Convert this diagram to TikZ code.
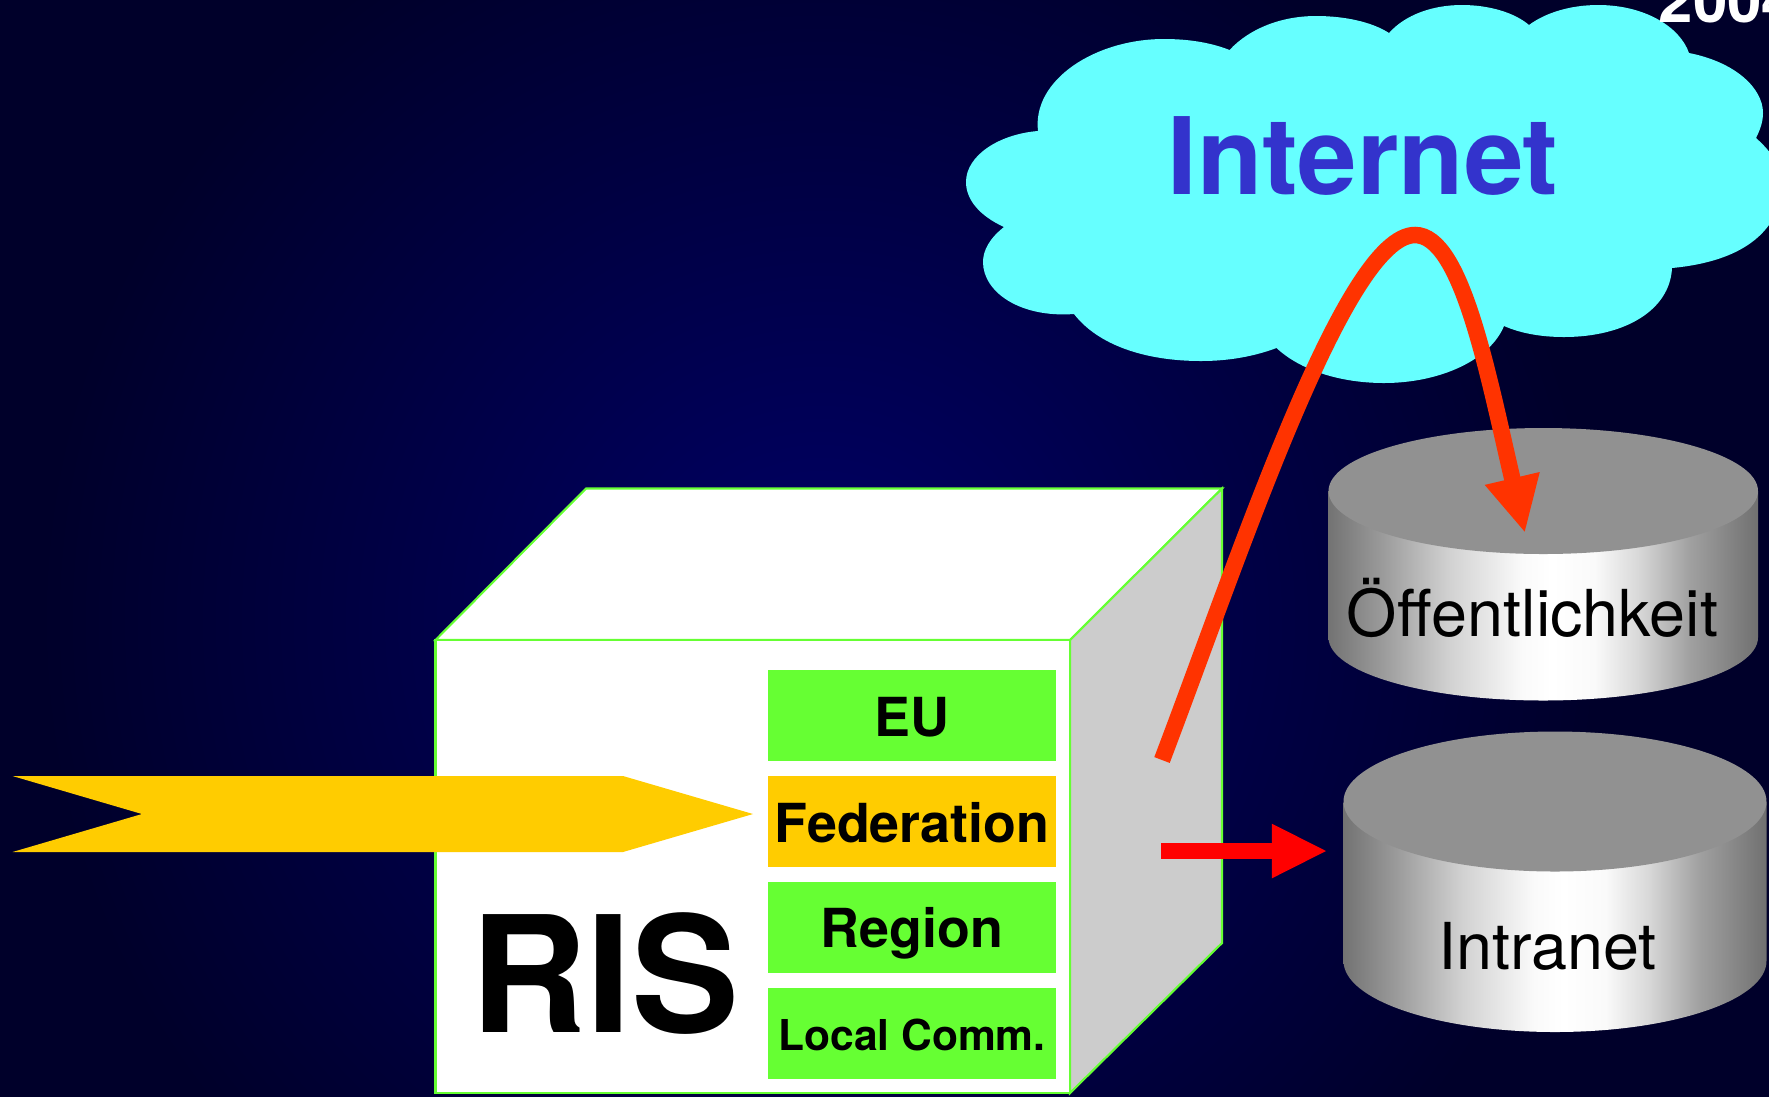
\documentclass[tikz,border=0pt]{standalone}
\usepackage{fontspec}
\setmainfont{TeX Gyre Heros}
\usetikzlibrary{arrows.meta}
\definecolor{bgglowin}{HTML}{000066}
\definecolor{bgglowout}{HTML}{00002A}
\definecolor{cloudcyan}{HTML}{66FFFF}
\definecolor{netblue}{HTML}{3333CC}
\definecolor{boxgreen}{HTML}{66FF33}
\definecolor{fedyellow}{HTML}{FFCC00}
\definecolor{sidegray}{HTML}{CCCCCC}
\definecolor{diskgray}{HTML}{919191}
\definecolor{curveorange}{HTML}{FF3300}
\pgfdeclareradialshading{bgglow}{\pgfpoint{0bp}{0bp}}{color(0bp)=(bgglowin); color(15bp)=(bgglowout); color(50bp)=(bgglowout)}
\pgfdeclarehorizontalshading{disksheen}{100bp}{rgb(0bp)=(.45,.45,.45); rgb(25bp)=(.45,.45,.45); rgb(31bp)=(.60,.60,.60); rgb(39bp)=(.82,.82,.82); rgb(47.5bp)=(.98,.98,.98); rgb(51bp)=(1,1,1); rgb(56bp)=(.98,.98,.98); rgb(61bp)=(.85,.85,.85); rgb(67bp)=(.63,.63,.63); rgb(75bp)=(.44,.44,.44); rgb(100bp)=(.44,.44,.44)}
\tikzset{
  cubeface/.style={draw=boxgreen,line width=0.6pt},
  levelbox/.style={fill=boxgreen},
  levellabel/.style={anchor=base,font=\bfseries\fontsize{15.3}{18}\selectfont},
  disklabel/.style={anchor=base,black,font=\fontsize{18.4}{22}\selectfont},
}
\begin{document}
\begin{tikzpicture}[x=0.01cm,y=-0.01cm]
    \clip (0,0) rectangle (1769,1096);
    \shade[shading=bgglow] (820,620) circle (1300);

    % cloud
    \fill[cloudcyan] (1038,131) .. controls (1032,80) and (1095,39) .. (1164,39) .. controls (1190,39) and (1212,43) .. (1229.5,50)
        .. controls (1250,28) and (1282,16) .. (1316,16) .. controls (1345,16) and (1372,22) .. (1389,33)
        .. controls (1405,15) and (1432,5) .. (1462,5) .. controls (1490,5) and (1515,13) .. (1529,25)
        .. controls (1545,13) and (1570,5) .. (1598,5) .. controls (1645,5) and (1680,27) .. (1689,53)
        .. controls (1735,62) and (1763,88) .. (1763,113) .. controls (1763,122) and (1760,130) .. (1756,138)
        .. controls (1775,155) and (1790,175) .. (1775,215) .. controls (1760,245) and (1725,263) .. (1672,268)
        .. controls (1670,310) and (1625,337) .. (1564,337) .. controls (1540,337) and (1520,333) .. (1504,326)
        .. controls (1490,360) and (1440,383) .. (1384,383) .. controls (1340,383) and (1300,370) .. (1276.5,348)
        .. controls (1255,356) and (1230,361) .. (1201,361) .. controls (1145,361) and (1098,345) .. (1074,314)
        .. controls (1020,318) and (983,292) .. (983,262) .. controls (983,250) and (990,238) .. (1004,227)
        .. controls (980,216) and (966,200) .. (966,182) .. controls (966,155) and (1000,134) .. (1038,131) -- cycle;
    \node[anchor=base,netblue,font=\bfseries\fontsize{30.4}{36}\selectfont] (internet) at (1363,194) {Internet};
    \node[anchor=base west,inner sep=0pt,white,font=\bfseries\fontsize{17.6}{20}\selectfont] (year) at (1658,22) {2004};

    % cube
    \filldraw[cubeface,fill=white] (435.5,640) -- (586,488.5) -- (1222,488.5) -- (1070,640) -- cycle;
    \filldraw[cubeface,fill=sidegray] (1070,640) -- (1222,488.5) -- (1222,943) -- (1070,1093) -- cycle;
    \filldraw[cubeface,fill=white] (435.5,640) rectangle (1070,1093);
    \node[anchor=base,font=\bfseries\fontsize{46}{52}\selectfont] (ris) at (605,1032) {RIS};

    % levels
    \fill[levelbox] (768,670) rectangle (1056,761);
    \fill[levelbox,fill=fedyellow] (768,776) rectangle (1056,867);
    \fill[levelbox] (768,882) rectangle (1056,973);
    \fill[levelbox] (768,988) rectangle (1056,1079);
    \node[levellabel] (eu) at (912,736) {EU};
    \node[levellabel] (federation) at (912,842) {Federation};
    \node[levellabel] (region) at (912,947.5) {Region};
    \node[levellabel,font=\bfseries\fontsize{12.1}{15}\selectfont] (localcomm) at (912,1050) {Local Comm.};

    \fill[fedyellow] (12.5,776) -- (623,776) -- (753,814) -- (623,852) -- (12.5,852) -- (142,814) -- cycle;

    % disks
    \shade[shading=disksheen] (1328.5,491) -- (1328.5,637.5)
        arc[start angle=180,end angle=0,x radius=214.75,y radius=63] -- (1758,491) -- cycle;
    \fill[diskgray] (1543.25,491) ellipse [x radius=214.75,y radius=63];
    \node[disklabel] (public) at (1532.5,636.5) {Öffentlichkeit};

    \shade[shading=disksheen] (1343.5,802) -- (1343.5,961)
        arc[start angle=180,end angle=0,x radius=211.5,y radius=71] -- (1766.5,802) -- cycle;
    \fill[diskgray] (1555,801.5) ellipse [x radius=211.5,y radius=70];
    \node[disklabel] (intranet) at (1547.5,969) {Intranet};

    % arrows
    \coordinate (curvestart) at (1162,760);
    \coordinate (curvetop) at (1415,235);
    \coordinate (curveend) at (1525,533);
    \coordinate (barstart) at (1161,851);
    \coordinate (barend) at (1327.5,851);
    \draw[curveorange,line width=0.165cm,-{Triangle[length=0.56cm,width=0.52cm]}] (curvestart)
        .. controls (1240,555) and (1345,235) .. (curvetop) .. controls (1462,235) and (1488,375) .. (curveend);
    \draw[red,line width=0.16cm,-{Triangle[length=0.555cm,width=0.5cm]}] (barstart) -- (barend);
\end{tikzpicture}
\end{document}
